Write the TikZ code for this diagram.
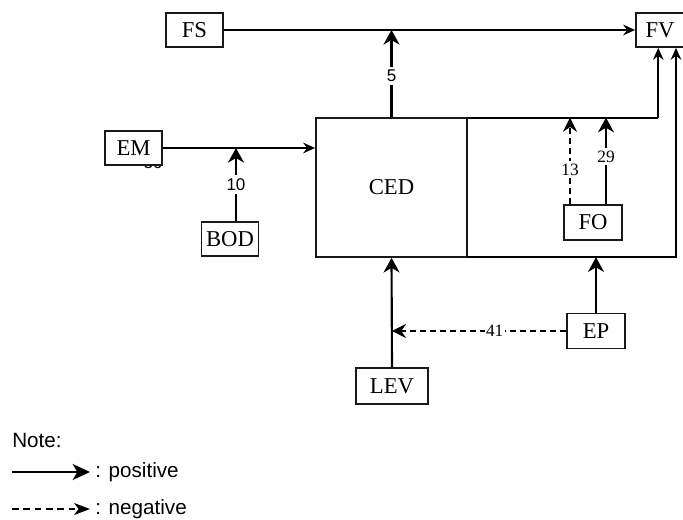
\documentclass[tikz,border=0pt]{standalone}
\usepackage{fontspec}
\setmainfont{Liberation Serif}
\newfontfamily\notefont{Liberation Sans}
\usetikzlibrary{arrows.meta,positioning}
\definecolor{boxline}{gray}{0.1}

\begin{document}
\begin{tikzpicture}[
  x=0.75pt, y=-0.75pt,
  var/.style={draw=boxline, line width=1.3pt, fill=white, inner sep=0pt, minimum width=#1, minimum height=25.5pt, font=\fontsize{17}{19}\selectfont},
  bigbox/.style={draw=boxline, line width=1.3pt, inner sep=0pt, minimum width=113.25pt, minimum height=104.25pt, font=\fontsize{17}{19}\selectfont},
  posarr/.style={line width=1.6pt, -{Stealth[length=11pt, width=12pt, inset=3.5pt]}},
  posthin/.style={line width=1.2pt, -{Stealth[length=9pt, width=8pt, inset=3pt]}},
  negarr/.style={line width=1.2pt, dash pattern=on 4.5pt off 3pt, -{Stealth[length=10.5pt, width=10.5pt, inset=3.5pt]}},
  numsans/.style={fill=white, inner xsep=1pt, inner ysep=2.5pt, font=\notefont\fontsize{12.75}{14}\selectfont},
  numserif/.style={fill=white, inner xsep=1pt, inner ysep=2pt, font=\fontsize{13}{14}\selectfont},
  note/.style={anchor=west, inner sep=0pt, font=\notefont\fontsize{15.5}{17}\selectfont},
]
  \useasboundingbox (0,0) rectangle (683,520);

  % top row
  \node[var=42.75pt] (FS) at (194.5,30) {FS};
  \node[var=36pt] (FV) at (660,30) {FV};

  % left inputs
  \node[numsans, fill=none] (em36) at (153,163) {36};
  \node[var=42.75pt] (EM) at (133.5,148) {EM};
  \node[var=42.75pt] (BOD) at (230,239) {BOD};

  % central block
  \node[bigbox] (CED) at (391.5,187.5) {CED};
  \node[minimum width=143.25pt, minimum height=104.25pt, inner sep=0pt] (rpanel) at (562.5,187.5) {};
  \node[var=43.5pt, minimum height=26.25pt] (FO) at (593,222.5) {FO};

  % lower inputs
  \node[var=43.5pt, minimum height=26.25pt] (EP) at (596,331) {EP};
  \node[var=54pt, minimum height=27pt] (LEV) at (392,386) {LEV};

  % connectors
  \draw[posthin] (FS.east) -- (FV.west);
  \draw[posarr] (CED.north) -- (CED.north |- FS.east) node[numsans, pos=0.47] {5};
  \draw[posthin] (EM.east) -- (EM.east -| CED.west);
  \draw[posarr] ([xshift=4.5pt]BOD.north) -- ([xshift=4.5pt]BOD.north |- EM.east) node[numsans, pos=0.5] {10};
  \draw[line width=1.3pt] (rpanel.north west) -- (rpanel.north east);
  \draw[posthin] (rpanel.north east) -- (rpanel.north east |- FV.south);
  \draw[posthin] (rpanel.south west) -| ([xshift=12pt]FV.south);
  \draw[negarr] ([xshift=-17.25pt]FO.north) -- ([xshift=-17.25pt]FO.north |- rpanel.north) node[numserif, pos=0.4] {13};
  \draw[posarr] ([xshift=9.75pt]FO.north) -- ([xshift=9.75pt]FO.north |- rpanel.north) node[numserif, pos=0.55] {29};
  \draw[posarr] (EP.north) -- (EP.north |- rpanel.south);
  \draw[posarr] (LEV.north) -- (CED.south);
  \draw[negarr] (EP.west) -- (EP.west -| LEV.north) node[numserif, pos=0.41] {41};

  % legend
  \node[note] (notehead) at (12,440) {Note:};
  \coordinate (posA) at (12,472);
  \coordinate (posB) at (90,472);
  \coordinate (negA) at (12,509);
  \coordinate (negB) at (90,509);
  \draw[line width=1.6pt, -{Stealth[length=13pt, width=12pt, inset=3.5pt]}] (posA) -- (posB);
  \draw[line width=1.2pt, dash pattern=on 5pt off 3.5pt, -{Stealth[length=12pt, width=9pt, inset=3.5pt]}] (negA) -- (negB);
  \node[note] (postext) at (95,472) {: positive};
  \node[note] (negtext) at (95,509) {: negative};
\end{tikzpicture}
\end{document}
